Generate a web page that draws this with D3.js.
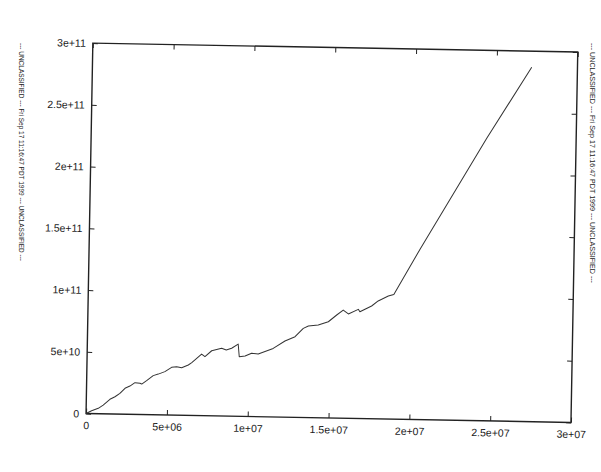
<!DOCTYPE html>
<html><head><meta charset="utf-8">
<script src="https://cdn.jsdelivr.net/npm/d3@7"></script>
<style>
html,body{margin:0;padding:0;background:#fff;}
svg{display:block;}
text{font-family:"Liberation Sans",Arial,Helvetica,sans-serif;fill:#1a1a1a;}
</style></head>
<body>
<script>
// ---- data ----
const xValues = [0,0.34e6,0.75e6,1.05e6,1.46e6,1.77e6,2.07e6,2.38e6,2.68e6,2.99e6,3.30e6,3.41e6,3.71e6,4.11e6,4.42e6,4.83e6,5.24e6,5.55e6,5.86e6,6.27e6,6.48e6,7.08e6,7.29e6,7.70e6,8.31e6,8.6e6,8.93e6,9.33e6,9.41e6,9.77e6,10.17e6,10.58e6,11.5e6,12.22e6,12.84e6,13.34e6,13.65e6,14.26e6,14.88e6,15.39e6,15.79e6,16.11e6,16.72e6,16.82e6,17.54e6,17.94e6,18.56e6,18.9e6,20.47e6,24.47e6,27.17e6];
const yValues = [0,2.3e9,4.4e9,7.1e9,11.9e9,14.0e9,16.8e9,21.0e9,22.9e9,25.7e9,25.3e9,24.7e9,27.5e9,31.7e9,33.0e9,35.1e9,38.7e9,39.3e9,38.5e9,40.8e9,42.8e9,49.9e9,47.8e9,52.7e9,54.8e9,53.5e9,55.0e9,58.5e9,48.3e9,48.9e9,51.2e9,50.8e9,55.5e9,61.7e9,65.3e9,72.2e9,74.2e9,75.1e9,77.9e9,83.5e9,87.6e9,84.5e9,88.4e9,86.5e9,91.3e9,95.5e9,99.6e9,101e9,138e9,228.8e9,287e9];
const xTicks = [0,5e6,1e7,1.5e7,2e7,2.5e7,3e7];
const xTickLabels = ["0","5e+06","1e+07","1.5e+07","2e+07","2.5e+07","3e+07"];
const yTicks = [0,5e10,1e11,1.5e11,2e11,2.5e11,3e11];
const yTickLabels = ["0","5e+10","1e+11","1.5e+11","2e+11","2.5e+11","3e+11"];
const sideText = "--- UNCLASSIFIED --- Fri Sep 17 11:16:47 PDT 1999 --- UNCLASSIFIED ---";

// ---- layout ----
const W = 601, H = 472;
const mLeft = 89.4, mTop = 47.5, pw = 485, ph = 370.5;
const cx = 331, cy = 233, angle = 1.05;

const svg = d3.select("body").append("svg").attr("width", W).attr("height", H);
svg.append("rect").attr("width", W).attr("height", H).attr("fill", "#fff");

const g = svg.append("g").attr("transform", `rotate(${angle},${cx},${cy})`);
const plot = g.append("g").attr("transform", `translate(${mLeft},${mTop})`);

const x = d3.scaleLinear().domain([0, 3e7]).range([0, pw]);
const y = d3.scaleLinear().domain([0, 3e11]).range([ph, 0]);

function styleAxis(sel){
  sel.select(".domain").remove();
  sel.selectAll(".tick line").attr("stroke", "#222").attr("stroke-width", 1);
  sel.selectAll(".tick text").style("font-size", "10.5px").attr("fill", "#1a1a1a");
}

const xa = plot.append("g").attr("transform", `translate(0,${ph})`)
  .call(d3.axisBottom(x).tickValues(xTicks).tickFormat((d,i)=>xTickLabels[i]).tickSize(-5).tickPadding(8));
styleAxis(xa);
const xt = plot.append("g")
  .call(d3.axisTop(x).tickValues(xTicks).tickFormat("").tickSize(-5));
styleAxis(xt);
const ya = plot.append("g")
  .call(d3.axisLeft(y).tickValues(yTicks).tickFormat((d,i)=>yTickLabels[i]).tickSize(-5).tickPadding(7));
styleAxis(ya);
const yr = plot.append("g").attr("transform", `translate(${pw},0)`)
  .call(d3.axisRight(y).tickValues(yTicks).tickFormat("").tickSize(-5));
styleAxis(yr);

plot.append("rect").attr("width", pw).attr("height", ph)
  .attr("fill", "none").attr("stroke", "#222").attr("stroke-width", 1.4);

const data = xValues.map((v,i)=>[v, yValues[i]]);
plot.append("path").datum(data)
  .attr("fill", "none").attr("stroke", "#333").attr("stroke-width", 1)
  .attr("stroke-linejoin", "round")
  .attr("d", d3.line().x(d=>x(d[0])).y(d=>y(d[1])));

// side annotations
svg.append("text").attr("transform", "translate(21,43) rotate(90)")
  .attr("text-anchor", "start").attr("dominant-baseline", "central")
  .style("font-size", "7px").attr("textLength", 218).attr("lengthAdjust", "spacingAndGlyphs")
  .text(sideText);
svg.append("text").attr("transform", "translate(592,43) rotate(90)")
  .attr("text-anchor", "start").attr("dominant-baseline", "central")
  .style("font-size", "7px").attr("textLength", 240).attr("lengthAdjust", "spacingAndGlyphs")
  .text(sideText);
</script>
</body></html>
